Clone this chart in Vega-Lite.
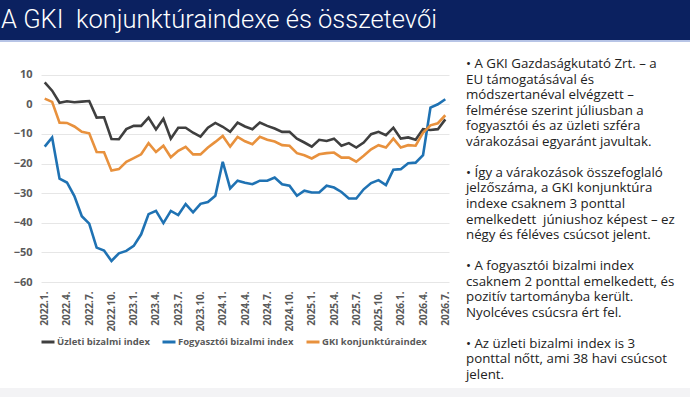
{
  "$schema": "https://vega.github.io/schema/vega-lite/v6.json",
  "padding": 0,
  "background": "white",
  "spacing": 15,
  "config": {
    "view": {"stroke": null},
    "font": "Open Sans"
  },
  "vconcat": [
    {
      "width": 649,
      "height": 42,
      "data": {"values": [{"t": "A GKI\u00a0 konjunktúraindexe és összetevői"}]},
      "layer": [
        {
          "mark": {"type": "rect", "color": "#0b2160"},
          "encoding": {"x": {"value": -41}, "x2": {"value": 649}, "y": {"value": 0}, "y2": {"value": 40}}
        },
        {
          "mark": {"type": "rect", "color": "#b7c4e6"},
          "encoding": {"x": {"value": -41}, "x2": {"value": 649}, "y": {"value": 40}, "y2": {"value": 42}}
        },
        {
          "mark": {"type": "text", "align": "left", "baseline": "middle", "color": "white", "font": "Roboto", "fontWeight": 300, "fontSize": 25.5},
          "encoding": {"text": {"field": "t"}, "x": {"value": -40}, "y": {"value": 20}}
        }
      ]
    },
    {
      "spacing": 6,
      "vconcat": [
        {
          "spacing": 15,
          "hconcat": [
            {
              "width": 408,
              "height": 218,
              "data": {"values": [
                {"m": "2022.1.", "Üzleti bizalmi index": 7.4, "Fogyasztói bizalmi index": -14.3, "GKI konjunktúraindex": 1.9},
                {"m": "2022.2.", "Üzleti bizalmi index": 4.6, "Fogyasztói bizalmi index": -11.2, "GKI konjunktúraindex": 0.8},
                {"m": "2022.3.", "Üzleti bizalmi index": 0.5, "Fogyasztói bizalmi index": -25.1, "GKI konjunktúraindex": -6.2},
                {"m": "2022.4.", "Üzleti bizalmi index": 1.0, "Fogyasztói bizalmi index": -26.4, "GKI konjunktúraindex": -6.3},
                {"m": "2022.5.", "Üzleti bizalmi index": 0.7, "Fogyasztói bizalmi index": -31.0, "GKI konjunktúraindex": -7.5},
                {"m": "2022.6.", "Üzleti bizalmi index": 0.9, "Fogyasztói bizalmi index": -37.8, "GKI konjunktúraindex": -9.3},
                {"m": "2022.7.", "Üzleti bizalmi index": 1.1, "Fogyasztói bizalmi index": -40.3, "GKI konjunktúraindex": -9.8},
                {"m": "2022.8.", "Üzleti bizalmi index": -4.5, "Fogyasztói bizalmi index": -48.4, "GKI konjunktúraindex": -16.1},
                {"m": "2022.9.", "Üzleti bizalmi index": -4.4, "Fogyasztói bizalmi index": -49.4, "GKI konjunktúraindex": -16.2},
                {"m": "2022.10.", "Üzleti bizalmi index": -11.7, "Fogyasztói bizalmi index": -52.9, "GKI konjunktúraindex": -22.4},
                {"m": "2022.11.", "Üzleti bizalmi index": -11.8, "Fogyasztói bizalmi index": -50.3, "GKI konjunktúraindex": -21.9},
                {"m": "2022.12.", "Üzleti bizalmi index": -8.4, "Fogyasztói bizalmi index": -49.5, "GKI konjunktúraindex": -19.4},
                {"m": "2023.1.", "Üzleti bizalmi index": -7.3, "Fogyasztói bizalmi index": -47.8, "GKI konjunktúraindex": -18.2},
                {"m": "2023.2.", "Üzleti bizalmi index": -7.3, "Fogyasztói bizalmi index": -43.9, "GKI konjunktúraindex": -16.9},
                {"m": "2023.3.", "Üzleti bizalmi index": -4.5, "Fogyasztói bizalmi index": -37.1, "GKI konjunktúraindex": -13.1},
                {"m": "2023.4.", "Üzleti bizalmi index": -8.5, "Fogyasztói bizalmi index": -36.0, "GKI konjunktúraindex": -16.1},
                {"m": "2023.5.", "Üzleti bizalmi index": -4.9, "Fogyasztói bizalmi index": -40.1, "GKI konjunktúraindex": -14.0},
                {"m": "2023.6.", "Üzleti bizalmi index": -11.6, "Fogyasztói bizalmi index": -36.0, "GKI konjunktúraindex": -17.9},
                {"m": "2023.7.", "Üzleti bizalmi index": -7.9, "Fogyasztói bizalmi index": -37.4, "GKI konjunktúraindex": -15.7},
                {"m": "2023.8.", "Üzleti bizalmi index": -7.9, "Fogyasztói bizalmi index": -33.7, "GKI konjunktúraindex": -14.4},
                {"m": "2023.9.", "Üzleti bizalmi index": -9.6, "Fogyasztói bizalmi index": -36.5, "GKI konjunktúraindex": -16.9},
                {"m": "2023.10.", "Üzleti bizalmi index": -10.9, "Fogyasztói bizalmi index": -33.6, "GKI konjunktúraindex": -16.9},
                {"m": "2023.11.", "Üzleti bizalmi index": -7.9, "Fogyasztói bizalmi index": -33.0, "GKI konjunktúraindex": -14.6},
                {"m": "2023.12.", "Üzleti bizalmi index": -6.3, "Fogyasztói bizalmi index": -30.9, "GKI konjunktúraindex": -12.7},
                {"m": "2024.1.", "Üzleti bizalmi index": -7.6, "Fogyasztói bizalmi index": -19.4, "GKI konjunktúraindex": -10.7},
                {"m": "2024.2.", "Üzleti bizalmi index": -9.3, "Fogyasztói bizalmi index": -28.4, "GKI konjunktúraindex": -14.3},
                {"m": "2024.3.", "Üzleti bizalmi index": -6.2, "Fogyasztói bizalmi index": -25.8, "GKI konjunktúraindex": -11.0},
                {"m": "2024.4.", "Üzleti bizalmi index": -7.5, "Fogyasztói bizalmi index": -26.5, "GKI konjunktúraindex": -12.5},
                {"m": "2024.5.", "Üzleti bizalmi index": -8.4, "Fogyasztói bizalmi index": -27.0, "GKI konjunktúraindex": -13.5},
                {"m": "2024.6.", "Üzleti bizalmi index": -6.2, "Fogyasztói bizalmi index": -25.8, "GKI konjunktúraindex": -11.0},
                {"m": "2024.7.", "Üzleti bizalmi index": -7.3, "Fogyasztói bizalmi index": -25.8, "GKI konjunktúraindex": -12.0},
                {"m": "2024.8.", "Üzleti bizalmi index": -8.2, "Fogyasztói bizalmi index": -24.7, "GKI konjunktúraindex": -12.6},
                {"m": "2024.9.", "Üzleti bizalmi index": -9.3, "Fogyasztói bizalmi index": -27.0, "GKI konjunktúraindex": -13.8},
                {"m": "2024.10.", "Üzleti bizalmi index": -9.3, "Fogyasztói bizalmi index": -27.5, "GKI konjunktúraindex": -14.0},
                {"m": "2024.11.", "Üzleti bizalmi index": -11.6, "Fogyasztói bizalmi index": -30.9, "GKI konjunktúraindex": -16.5},
                {"m": "2024.12.", "Üzleti bizalmi index": -12.9, "Fogyasztói bizalmi index": -29.2, "GKI konjunktúraindex": -17.2},
                {"m": "2025.1.", "Üzleti bizalmi index": -14.3, "Fogyasztói bizalmi index": -29.8, "GKI konjunktúraindex": -18.3},
                {"m": "2025.2.", "Üzleti bizalmi index": -12.0, "Fogyasztói bizalmi index": -29.8, "GKI konjunktúraindex": -16.9},
                {"m": "2025.3.", "Üzleti bizalmi index": -12.4, "Fogyasztói bizalmi index": -27.5, "GKI konjunktúraindex": -16.5},
                {"m": "2025.4.", "Üzleti bizalmi index": -11.6, "Fogyasztói bizalmi index": -28.1, "GKI konjunktúraindex": -16.3},
                {"m": "2025.5.", "Üzleti bizalmi index": -14.0, "Fogyasztói bizalmi index": -29.6, "GKI konjunktúraindex": -18.0},
                {"m": "2025.6.", "Üzleti bizalmi index": -13.1, "Fogyasztói bizalmi index": -31.8, "GKI konjunktúraindex": -18.0},
                {"m": "2025.7.", "Üzleti bizalmi index": -14.6, "Fogyasztói bizalmi index": -31.8, "GKI konjunktúraindex": -19.4},
                {"m": "2025.8.", "Üzleti bizalmi index": -12.9, "Fogyasztói bizalmi index": -28.7, "GKI konjunktúraindex": -17.4},
                {"m": "2025.9.", "Üzleti bizalmi index": -10.1, "Fogyasztói bizalmi index": -26.6, "GKI konjunktúraindex": -15.2},
                {"m": "2025.10.", "Üzleti bizalmi index": -9.3, "Fogyasztói bizalmi index": -25.6, "GKI konjunktúraindex": -13.8},
                {"m": "2025.11.", "Üzleti bizalmi index": -10.4, "Fogyasztói bizalmi index": -27.3, "GKI konjunktúraindex": -14.6},
                {"m": "2025.12.", "Üzleti bizalmi index": -7.9, "Fogyasztói bizalmi index": -22.1, "GKI konjunktúraindex": -11.6},
                {"m": "2026.1.", "Üzleti bizalmi index": -11.6, "Fogyasztói bizalmi index": -21.9, "GKI konjunktúraindex": -14.6},
                {"m": "2026.2.", "Üzleti bizalmi index": -11.2, "Fogyasztói bizalmi index": -19.9, "GKI konjunktúraindex": -13.8},
                {"m": "2026.3.", "Üzleti bizalmi index": -12.0, "Fogyasztói bizalmi index": -19.7, "GKI konjunktúraindex": -14.0},
                {"m": "2026.4.", "Üzleti bizalmi index": -8.4, "Fogyasztói bizalmi index": -17.2, "GKI konjunktúraindex": -9.6},
                {"m": "2026.5.", "Üzleti bizalmi index": -8.7, "Fogyasztói bizalmi index": -1.1, "GKI konjunktúraindex": -7.1},
                {"m": "2026.6.", "Üzleti bizalmi index": -8.4, "Fogyasztói bizalmi index": 0.0, "GKI konjunktúraindex": -6.4},
                {"m": "2026.7.", "Üzleti bizalmi index": -5.1, "Fogyasztói bizalmi index": 1.7, "GKI konjunktúraindex": -3.7}
              ]},
              "transform": [
                {"fold": ["Üzleti bizalmi index", "Fogyasztói bizalmi index", "GKI konjunktúraindex"], "as": ["s", "v"]}
              ],
              "mark": {"type": "line", "strokeWidth": 2.6, "strokeJoin": "miter"},
              "encoding": {
                "x": {
                  "field": "m", "type": "ordinal", "sort": null,
                  "scale": {"type": "point", "padding": 0.5},
                  "axis": {
                    "title": null,
                    "values": ["2022.1.", "2022.4.", "2022.7.", "2022.10.", "2023.1.", "2023.4.", "2023.7.", "2023.10.", "2024.1.", "2024.4.", "2024.7.", "2024.10.", "2025.1.", "2025.4.", "2025.7.", "2025.10.", "2026.1.", "2026.4.", "2026.7."],
                    "labelAngle": -90,
                    "labelPadding": 9,
                    "labelFont": "Open Sans",
                    "labelFontWeight": "bold",
                    "labelFontSize": 10,
                    "labelColor": "#595959",
                    "domain": false,
                    "ticks": false,
                    "grid": false
                  }
                },
                "y": {
                  "field": "v", "type": "quantitative",
                  "scale": {"domain": [-60, 13.6], "nice": false, "zero": false},
                  "axis": {
                    "title": null,
                    "values": [-60, -50, -40, -30, -20, -10, 0, 10],
                    "labelPadding": 9,
                    "labelFont": "Open Sans",
                    "labelFontWeight": "bold",
                    "labelFontSize": 11,
                    "labelColor": "#595959",
                    "domain": false,
                    "ticks": false,
                    "grid": true,
                    "gridColor": "#e6e6e6",
                    "gridWidth": 1,
                    "minExtent": 41,
                    "maxExtent": 41
                  }
                },
                "color": {
                  "field": "s", "type": "nominal",
                  "scale": {"domain": ["Üzleti bizalmi index", "Fogyasztói bizalmi index", "GKI konjunktúraindex"], "range": ["#3f3f3f", "#1f72b3", "#e8913d"]},
                  "legend": {
                    "title": null,
                    "orient": "none",
                    "legendX": -1,
                    "legendY": 334,
                    "direction": "horizontal",
                    "symbolType": "stroke",
                    "symbolStrokeWidth": 3,
                    "symbolSize": 169,
                    "labelOffset": 1,
                    "columnPadding": 6,
                    "labelFont": "Open Sans",
                    "labelFontWeight": "bold",
                    "labelFontSize": 9.5,
                    "labelColor": "#595959"
                  }
                }
              }
            },
            {
              "width": 220,
              "height": 311,
              "data": {"values": [
                {"k": 0, "t": "• A GKI Gazdaságkutató Zrt. – a"},
                {"k": 1, "t": "EU támogatásával és"},
                {"k": 2, "t": "módszertanéval elvégzett –"},
                {"k": 3, "t": "felmérése szerint júliusban a"},
                {"k": 4, "t": "fogyasztói és az üzleti szféra"},
                {"k": 5, "t": "várakozásai egyaránt javultak."},
                {"k": 7, "t": "• Így a várakozások összefoglaló"},
                {"k": 8, "t": "jelzőszáma, a GKI konjunktúra"},
                {"k": 9, "t": "indexe csaknem 3 ponttal"},
                {"k": 10, "t": "emelkedett\u00a0 júniushoz képest – ez"},
                {"k": 11, "t": "négy és féléves csúcsot jelent."},
                {"k": 13, "t": "• A fogyasztói bizalmi index"},
                {"k": 14, "t": "csaknem 2 ponttal emelkedett, és"},
                {"k": 15, "t": "pozitív tartományba került."},
                {"k": 16, "t": "Nyolcéves csúcsra ért fel."},
                {"k": 18, "t": "• Az üzleti bizalmi index is 3"},
                {"k": 19, "t": "ponttal nőtt, ami 38 havi csúcsot"},
                {"k": 20, "t": "jelent."}
              ]},
              "mark": {"type": "text", "align": "left", "baseline": "middle", "font": "Open Sans", "fontSize": 13.3, "color": "#222222"},
              "encoding": {
                "text": {"field": "t"},
                "x": {"value": 0},
                "y": {"field": "k", "type": "quantitative", "scale": {"domain": [0, 20], "reverse": true, "nice": false, "zero": false}, "axis": null}
              }
            }
          ]
        },
        {
          "width": 649,
          "height": 9,
          "data": {"values": [{}]},
          "mark": {"type": "rect", "color": "#f3f3f5"},
          "encoding": {"x": {"value": -41}, "x2": {"value": 649}, "y": {"value": 0}, "y2": {"value": 9}}
        }
      ]
    }
  ]
}
